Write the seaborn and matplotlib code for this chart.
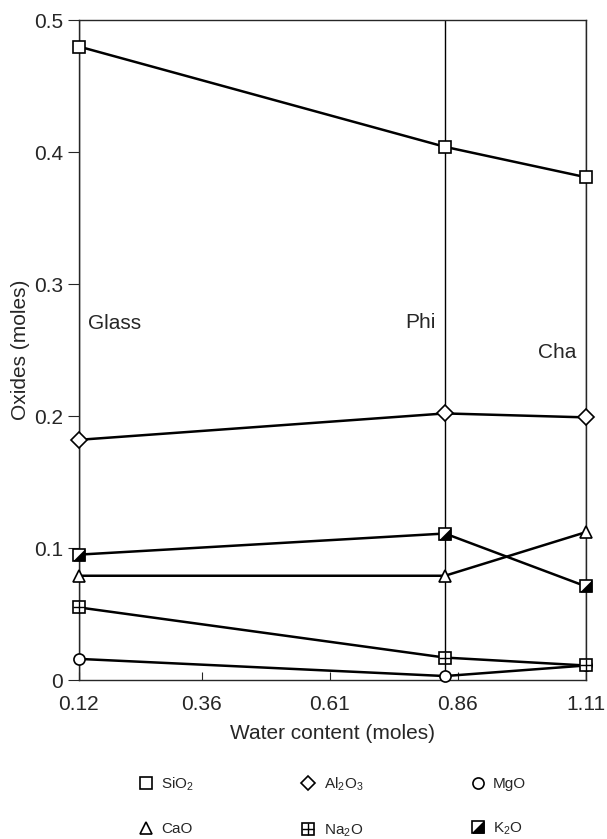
import matplotlib
matplotlib.use("Agg")
import matplotlib.pyplot as plt
from matplotlib.lines import Line2D
import seaborn as sns
import pandas as pd

water = [0.12, 0.835, 1.11]
phases = ["Glass", "Phi", "Cha"]
sio2 = [0.480, 0.404, 0.381]
al2o3 = [0.182, 0.202, 0.199]
mgo = [0.016, 0.003, 0.011]
cao = [0.079, 0.079, 0.112]
na2o = [0.055, 0.017, 0.011]
k2o = [0.095, 0.111, 0.071]
xticks = [0.12, 0.36, 0.61, 0.86, 1.11]

oxides = {"SiO2": sio2, "Al2O3": al2o3, "MgO": mgo,
          "CaO": cao, "Na2O": na2o, "K2O": k2o}
labels = {"SiO2": "SiO$_2$", "Al2O3": "Al$_2$O$_3$", "MgO": "MgO",
          "CaO": "CaO", "Na2O": "Na$_2$O", "K2O": "K$_2$O"}
marks = {"SiO2": "s", "Al2O3": "D", "MgO": "o", "CaO": "^", "Na2O": "s", "K2O": "s"}

rows = []
for name, vals in oxides.items():
    for x, v in zip(water, vals):
        rows.append({"water": x, "oxide": name, "moles": v})
df = pd.DataFrame(rows)

sns.set_style("ticks")
plt.rcParams["font.family"] = ["Liberation Sans", "DejaVu Sans"]
plt.rcParams["mathtext.fontset"] = "custom"
plt.rcParams["mathtext.rm"] = "Liberation Sans"

fig = plt.figure(figsize=(6.07, 8.39), dpi=100)
ax = fig.add_axes([0.130, 0.1895, 0.835, 0.7865])

# vertical guide lines at each phase
for x in water:
    ax.axvline(x, color="black", lw=1.0, zorder=1)

sns.lineplot(data=df, x="water", y="moles", hue="oxide", style="oxide",
             palette=["black"] * 6, markers=marks, dashes=False, lw=1.8,
             markersize=8, markerfacecolor="white", markeredgecolor="black",
             markeredgewidth=1.2, legend=False, ax=ax, zorder=3, clip_on=False)

# extra marker details
tri = [(-1, -1), (1, -1), (1, 1), (-1, -1)]
ax.plot(water, k2o, ls="none", marker=tri, ms=8, mfc="black", mec="black",
        mew=0.5, zorder=4, clip_on=False)
ax.plot(water, na2o, ls="none", marker="+", ms=8, mec="black", mew=1.0,
        zorder=4, clip_on=False)

ax.set_xlim(0.12, 1.11)
ax.set_ylim(0, 0.5)
ax.set_xticks(xticks)
ax.set_xticklabels([f"{t:.2f}" for t in xticks])
ax.set_yticks([0, 0.1, 0.2, 0.3, 0.4, 0.5])
ax.set_yticklabels(["0", "0.1", "0.2", "0.3", "0.4", "0.5"])
ax.tick_params(axis="x", direction="in", length=6, labelsize=15, pad=11)
ax.tick_params(axis="y", direction="out", length=8, labelsize=15)
for s in ax.spines.values():
    s.set_linewidth(1.0)
ax.set_xlabel("Water content (moles)", fontsize=15, labelpad=7)
ax.set_ylabel("Oxides (moles)", fontsize=15, labelpad=3)

ax.text(0.137, 0.270, phases[0], fontsize=15, va="center")
ax.text(0.757, 0.271, phases[1], fontsize=15, va="center")
ax.text(1.016, 0.248, phases[2], fontsize=15, va="center")

order = ["SiO2", "CaO", "Al2O3", "Na2O", "MgO", "K2O"]
handles = []
for name in order:
    base = Line2D([], [], ls="none", marker=marks[name], ms=8, mfc="white",
                  mec="black", mew=1.2)
    if name == "Al2O3":
        base.set_markersize(7)
    if name == "K2O":
        handles.append((base, Line2D([], [], ls="none", marker=tri, ms=8, mfc="black", mec="black")))
    elif name == "Na2O":
        handles.append((base, Line2D([], [], ls="none", marker="+", ms=8, mec="black", mew=1.0)))
    else:
        handles.append(base)
fig.legend(handles, [labels[n] for n in order],
           loc="center", bbox_to_anchor=(0.547, 0.038), ncol=3, frameon=False,
           fontsize=11, handlelength=1.0, handletextpad=0.5, columnspacing=7.0,
           labelspacing=1.9, borderpad=0)

fig.savefig("out.png", dpi=100, facecolor="white")
